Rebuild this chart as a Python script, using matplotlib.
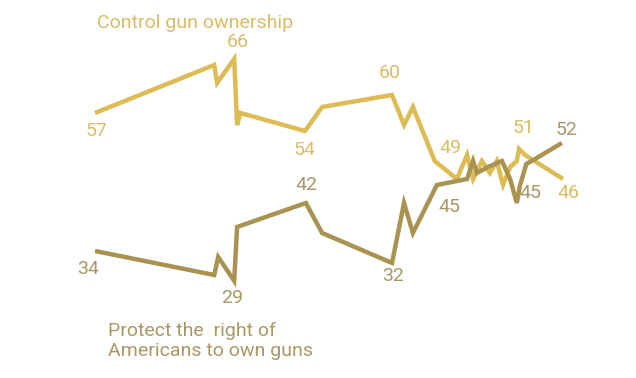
import matplotlib
matplotlib.use("Agg")
import matplotlib.pyplot as plt

# survey dates (decimal years) and shares (%)
control_x = [1993.9, 1999.27, 1999.4, 2000.17, 2000.3, 2000.45, 2003.36, 2004.13, 2007.28,
             2007.82, 2008.22, 2009.2, 2010.2, 2010.66, 2010.93, 2011.33, 2011.69, 2012.0,
             2012.28, 2012.6, 2012.9, 2013.0, 2013.27, 2014.98]
control = [57, 65, 62, 66, 55, 57, 54, 58, 60,
           55, 58, 49, 46, 50, 46, 49, 47, 49,
           45, 48, 49, 51, 50, 46]

rights_x = [1993.9, 1999.27, 1999.45, 2000.17, 2000.3, 2003.4, 2004.13, 2007.28, 2007.82,
            2008.22, 2009.3, 2010.66, 2010.93, 2011.1, 2011.6, 2012.23, 2012.6, 2012.9,
            2013.05, 2013.33, 2013.8, 2014.93]
rights = [34, 30, 33, 29, 38, 42, 37, 32, 42,
          37, 45, 46, 49, 47, 48, 49, 46, 42,
          45, 48.5, 49.5, 52]

# labelled points: (index, offset in pixels)
control_labels = [(0, (2, -18)), (3, (4, 17)), (6, (0, -19)), (8, (-2, 22)),
                  (11, (16, 13)), (21, (5, 21)), (23, (5, -14))]
rights_labels = [(0, (-7, -18)), (3, (-2, -17)), (5, (1, 18)), (7, (1, -13)),
                 (10, (12, -22)), (18, (10, -8)), (21, (5, 13))]

c_line = "#DDBB55"
r_line = "#A89350"
c_text = "#D8BC66"
r_text = "#A79864"

plt.rcParams["font.family"] = ["Roboto", "DejaVu Sans"]

fig = plt.figure(figsize=(6.36, 3.78), dpi=100)
ax = fig.add_axes([0, 0, 1, 1])
ax.set_xlim(1989.62, 2018.27)
ax.set_ylim(12.83, 75.83)
ax.axis("off")

ax.plot(control_x, control, color=c_line, lw=3.2, solid_joinstyle="miter", solid_capstyle="butt")
ax.plot(rights_x, rights, color=r_line, lw=3.2, solid_joinstyle="miter", solid_capstyle="butt")

for i, off in control_labels:
    ax.annotate(str(int(round(control[i]))), (control_x[i], control[i]), xytext=off,
                textcoords="offset pixels", ha="center", va="center",
                fontsize=14, color=c_text)
for i, off in rights_labels:
    ax.annotate(str(int(round(rights[i]))), (rights_x[i], rights[i]), xytext=off,
                textcoords="offset pixels", ha="center", va="center",
                fontsize=14, color=r_text)

fig.text(97 / 636, 1 - 23 / 378, "Control gun ownership", ha="left", va="center",
         fontsize=14, color=c_text)
fig.text(108 / 636, 1 - 341 / 378, "Protect the  right of\nAmericans to own guns",
         ha="left", va="center", fontsize=14, color=r_text, linespacing=1.2)

fig.savefig("out.png", dpi=100)
